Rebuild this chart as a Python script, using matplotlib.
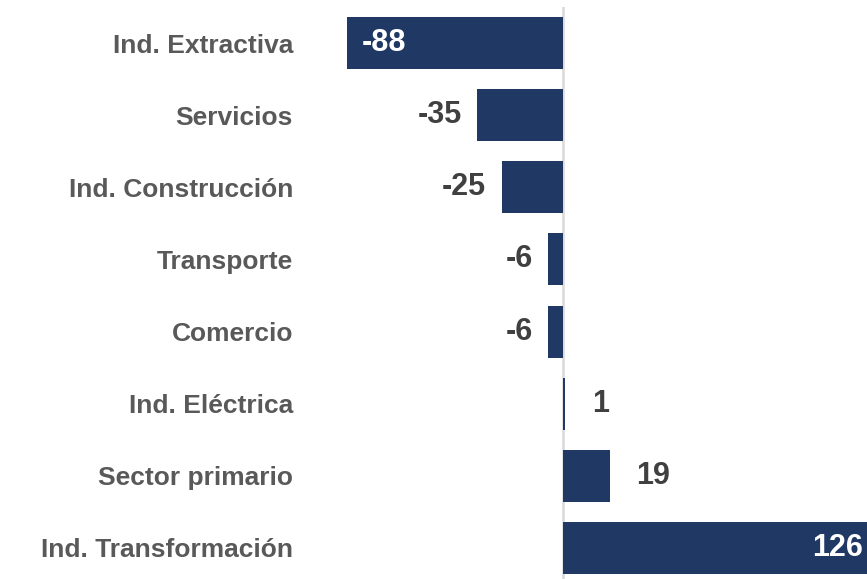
import matplotlib.pyplot as plt

# data
categories = ['Ind. Extractiva', 'Servicios', 'Ind. Construcción', 'Transporte',
              'Comercio', 'Ind. Eléctrica', 'Sector primario', 'Ind. Transformación']
values = [-88, -35, -25, -6, -6, 1, 19, 126]

bar_color = '#203864'

plt.rcParams['font.family'] = ['Liberation Sans', 'DejaVu Sans']
plt.rcParams['font.weight'] = 'bold'

W, H = 867, 579
fig = plt.figure(figsize=(W / 100, H / 100), dpi=100)
# axes in pixel units: left 300, right 867, top 7, bottom 579
ax = fig.add_axes([300 / W, 0, 567 / W, 572 / H])

y = list(range(len(categories)))
ax.barh(y, values, height=0.72, color=bar_color, zorder=2)
ax.axvline(0, color='#d9d9d9', lw=1.8, zorder=1)

ax.set_xlim(-107.1, 123.9)
ax.set_ylim(7.43, -0.5)

ax.set_yticks(y)
ax.set_yticklabels(categories, fontsize=19, color='#595959', fontweight='bold')
ax.tick_params(axis='y', length=0, pad=5)
ax.set_xticks([])
for s in ax.spines.values():
    s.set_visible(False)

# value labels
xmin, xmax = ax.get_xlim()
for yi, v in zip(y, values):
    txt = f'{v}'
    if v < xmin + 30:
        ax.annotate(txt, (v, yi), xytext=(11, 0), textcoords='offset points',
                    ha='left', va='center', fontsize=22, color='white', fontweight='bold')
    elif v > xmax - 10:
        ax.annotate(txt, (xmax, yi), xytext=(-3, 0), textcoords='offset points',
                    ha='right', va='center', fontsize=22, color='white', fontweight='bold')
    elif v < 0:
        ax.annotate(txt, (v, yi), xytext=(-11, 0), textcoords='offset points',
                    ha='right', va='center', fontsize=22, color='#404040', fontweight='bold')
    else:
        ax.annotate(txt, (v, yi), xytext=(19, 0), textcoords='offset points',
                    ha='left', va='center', fontsize=22, color='#404040', fontweight='bold')

fig.savefig('out.png', dpi=100)
